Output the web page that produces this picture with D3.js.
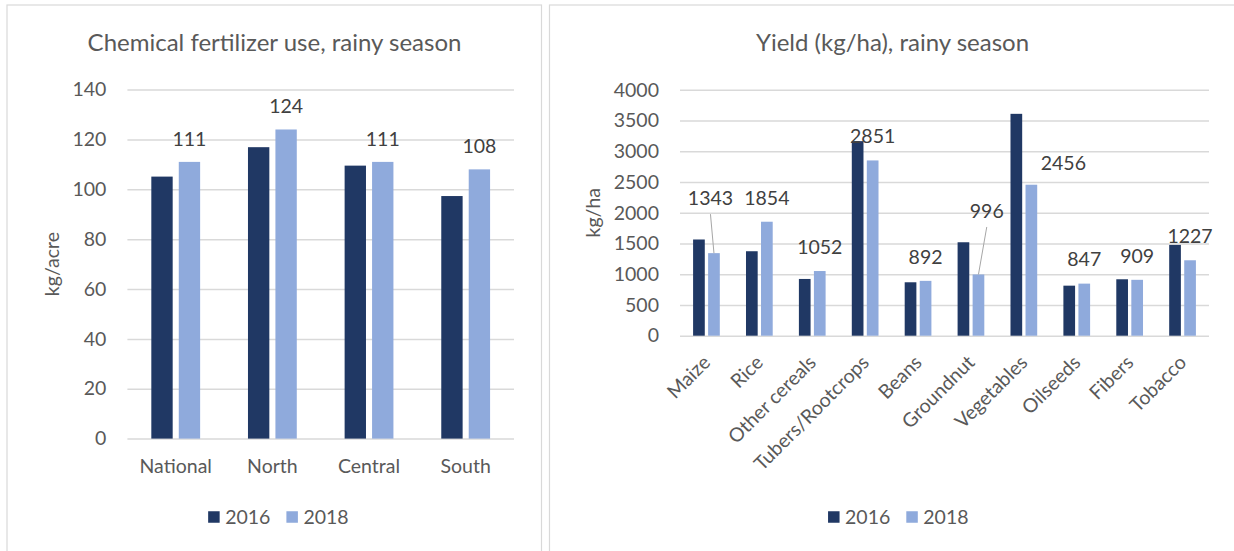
<!DOCTYPE html>
<html>
<head>
<meta charset="utf-8">
<script src="https://cdn.jsdelivr.net/npm/d3@7"></script>
<style>
  html, body { margin: 0; padding: 0; background: #ffffff; }
  svg { display: block; font-family: Lato, "Open Sans", sans-serif; }
</style>
</head>
<body>
<svg id="chart" width="1234" height="551"></svg>
<script>
// ---------- data ----------
const seriesNames = ["2016", "2018"];

const fertCategories = ["National", "North", "Central", "South"];
const fert2016 = [105.1, 116.9, 109.5, 97.3];
const fert2018 = [111, 124, 111, 108];
const fertTicks = [0, 20, 40, 60, 80, 100, 120, 140];

const yieldCategories = ["Maize", "Rice", "Other cereals", "Tubers/Rootcrops", "Beans",
  "Groundnut", "Vegetables", "Oilseeds", "Fibers", "Tobacco"];
const yield2016 = [1565, 1374, 923, 3165, 869, 1520, 3609, 814, 918, 1477];
const yield2018 = [1343, 1854, 1052, 2851, 892, 996, 2456, 847, 909, 1227];
const yieldTicks = [0, 500, 1000, 1500, 2000, 2500, 3000, 3500, 4000];

// ---------- style ----------
const colors = { "2016": "#203864", "2018": "#8faadc" };
const gridColor = "#d9d9d9";
const textColor = "#595959";
const labelColor = "#404040";
const FONT = 19.5;
const TITLE_FONT = 24;

const svg = d3.select("#chart");

// panel borders
svg.append("rect").attr("x", 7).attr("y", 5).attr("width", 534.5).attr("height", 560)
  .attr("fill", "none").attr("stroke", gridColor).attr("stroke-width", 1.2);
svg.append("rect").attr("x", 549.5).attr("y", 5).attr("width", 700).attr("height", 560)
  .attr("fill", "none").attr("stroke", gridColor).attr("stroke-width", 1.2);

function drawChart(cfg) {
  const g = svg.append("g");
  const x = d3.scaleBand().domain(cfg.categories).range([cfg.x0, cfg.x1]).paddingInner(0).paddingOuter(0);
  const y = d3.scaleLinear().domain([0, cfg.ticks[cfg.ticks.length - 1]]).range([cfg.yBottom, cfg.yTop]);
  const groupW = x.bandwidth() * 0.505;
  const xs = d3.scaleBand().domain(seriesNames).range([0, groupW]).paddingInner(0.222).paddingOuter(0);
  const groupOff = (x.bandwidth() - groupW) / 2;

  // title
  g.append("text").attr("x", cfg.titleX).attr("y", 50.5).attr("text-anchor", "middle")
    .attr("font-size", TITLE_FONT).attr("fill", textColor).text(cfg.title);

  // y axis with gridlines
  const yAxis = d3.axisLeft(y).tickValues(cfg.ticks).tickFormat(d3.format("d"))
    .tickSize(-(cfg.x1 - cfg.x0)).tickPadding(21);
  const ya = g.append("g").attr("transform", `translate(${cfg.x0},0)`).call(yAxis);
  ya.select(".domain").remove();
  ya.selectAll(".tick line").attr("stroke", gridColor).attr("stroke-width", 1.5);
  ya.selectAll(".tick text").attr("fill", textColor).attr("font-size", FONT)
    .attr("font-family", "Lato, sans-serif");

  // y axis title
  g.append("text")
    .attr("transform", `translate(${cfg.yTitleX},${(cfg.yTop + cfg.yBottom) / 2}) rotate(-90)`)
    .attr("text-anchor", "middle").attr("font-size", FONT).attr("fill", textColor).text(cfg.yTitle);

  // bars
  const rows = cfg.categories.map((c, i) => ({ cat: c, "2016": cfg.s2016[i], "2018": cfg.s2018[i] }));
  const grp = g.selectAll(".grp").data(rows).join("g")
    .attr("transform", d => `translate(${x(d.cat) + groupOff},0)`);
  grp.selectAll("rect").data(d => seriesNames.map(s => ({ s, v: d[s] }))).join("rect")
    .attr("x", d => xs(d.s)).attr("width", xs.bandwidth())
    .attr("y", d => y(d.v)).attr("height", d => y(0) - y(d.v))
    .attr("fill", d => colors[d.s]);

  // x axis labels
  const xAxis = d3.axisBottom(x).tickSize(0).tickPadding(0);
  const xa = g.append("g").attr("transform", `translate(0,${cfg.yBottom})`).call(xAxis);
  xa.select(".domain").remove();
  const xt = xa.selectAll(".tick text").attr("fill", textColor).attr("font-size", FONT)
    .attr("font-family", "Lato, sans-serif");
  if (cfg.rotate) {
    xt.attr("text-anchor", "end").attr("y", 0).attr("dy", 0)
      .attr("transform", "translate(5,28) rotate(-45)");
  } else {
    xt.attr("y", 34).attr("dy", 0);
  }

  // data labels (2018 series)
  rows.forEach((d, i) => {
    const bx = x(d.cat) + groupOff + xs("2018") + xs.bandwidth() / 2;
    const by = y(d["2018"]);
    const off = cfg.labelOffsets[d["2018"]] || [0, 0];
    const lx = bx + off[0];
    const ly = by - cfg.labelGap + off[1];
    if (off[2]) {
      g.append("line").attr("x1", lx).attr("y1", ly + 16).attr("x2", bx).attr("y2", by)
        .attr("stroke", "#a6a6a6").attr("stroke-width", 1);
    }
    g.append("text").attr("x", lx).attr("y", ly).attr("dy", "0.35em")
      .attr("text-anchor", "middle").attr("font-size", FONT).attr("fill", labelColor)
      .text(d3.format("d")(d["2018"]));
  });

  // legend
  const lg = g.append("g");
  let cx = 0;
  seriesNames.forEach((s, i) => {
    const it = lg.append("g").attr("transform", `translate(${cx},0)`);
    it.append("rect").attr("x", 0).attr("y", -5.75).attr("width", 11.5).attr("height", 11.5)
      .attr("fill", colors[s]);
    const t = it.append("text").attr("x", 17).attr("y", 0).attr("dy", "0.35em")
      .attr("font-size", FONT).attr("fill", textColor).text(s);
    cx += 17 + t.node().getComputedTextLength() + 16;
  });
  const lw = cx - 16;
  lg.attr("transform", `translate(${cfg.legendCX - lw / 2},517)`);
}

drawChart({
  categories: fertCategories, s2016: fert2016, s2018: fert2018, ticks: fertTicks,
  x0: 127.4, x1: 514, yTop: 89.6, yBottom: 438.6,
  title: "Chemical fertilizer use, rainy season", titleX: 274.5,
  yTitle: "kg/acre", yTitleX: 59, rotate: false,
  labelGap: 23, labelOffsets: {}, legendCX: 278.4
});

drawChart({
  categories: yieldCategories, s2016: yield2016, s2018: yield2018, ticks: yieldTicks,
  x0: 680, x1: 1209, yTop: 89.8, yBottom: 335.7,
  title: "Yield (kg/ha), rainy season", titleX: 892.5,
  yTitle: "kg/ha", yTitleX: 600, rotate: true,
  labelGap: 24,
  labelOffsets: { 1343: [-3.5, -31, true], 996: [8.3, -39.5, true], 2456: [32, 2.5] },
  legendCX: 898.3
});
</script>
</body>
</html>
